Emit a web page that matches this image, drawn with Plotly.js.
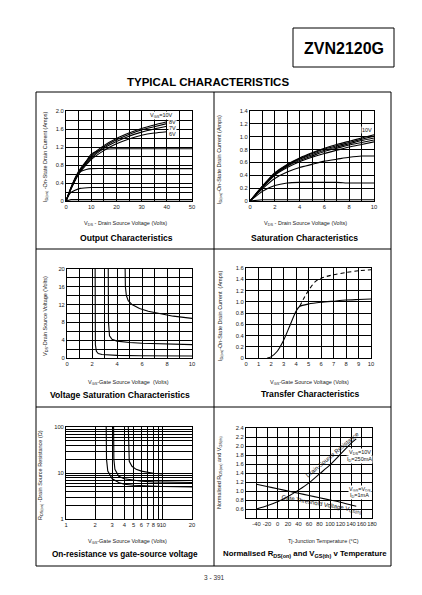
<!DOCTYPE html>
<html><head><meta charset="utf-8">
<script src="https://cdn.plot.ly/plotly-3.0.1.min.js"></script>
<style>html,body{margin:0;padding:0;background:#fff;}#chart{width:422px;height:595px;}</style>
</head><body><div id="chart"></div>
<script>
// ---------- Panel 1: Output characteristics (ID vs VDS) ----------
const outVds   = [0, 2, 5, 10, 15, 20, 25, 30, 35, 40];
const outId10  = [0, 0.30, 0.66, 1.01, 1.23, 1.39, 1.51, 1.61, 1.69, 1.76];
const outId8   = [0, 0.29, 0.64, 0.98, 1.20, 1.36, 1.48, 1.58, 1.65, 1.72];
const outId7   = [0, 0.28, 0.62, 0.95, 1.17, 1.32, 1.44, 1.53, 1.60, 1.66];
const outId6   = [0, 0.27, 0.60, 0.92, 1.12, 1.27, 1.38, 1.46, 1.51, 1.54];
const outVds5  = [0, 2, 5, 8, 10, 13, 15, 20, 30, 40, 50];
const outId5   = [0, 0.27, 0.60, 0.88, 1.04, 1.12, 1.15, 1.16, 1.16, 1.16, 1.16];
const outVds4  = [0, 2, 4, 6, 8, 10, 20, 30, 40, 50];
const outId4   = [0, 0.30, 0.55, 0.66, 0.70, 0.72, 0.72, 0.72, 0.72, 0.72];
const outVds3  = [0, 1, 2, 3.6, 5.6, 10, 20, 50];
const outId3   = [0, 0.12, 0.19, 0.24, 0.28, 0.30, 0.30, 0.30];
const outVds2  = [0, 2, 50];
const outId2   = [0, 0.03, 0.03];
const p1XGrid  = [0, 5, 10, 15, 20, 25, 30, 35, 40, 45, 50];
const p1XTicks = [0, 10, 20, 30, 40, 50];
const p1XText  = ['0', '10', '20', '30', '40', '50'];
const p1YGrid  = [0, 0.2, 0.4, 0.6, 0.8, 1.0, 1.2, 1.4, 1.6, 1.8, 2.0];
const p1YTicks = [0, 0.4, 0.8, 1.2, 1.6, 2.0];
const p1YText  = ['0', '0.4', '0.8', '1.2', '1.6', '2.0'];

// ---------- Panel 2: Saturation characteristics ----------
const satVds = [0, 1, 2, 3, 4, 5, 6, 7, 8, 9, 10];
const sat10  = [0, 0.23, 0.44, 0.57, 0.67, 0.75, 0.82, 0.88, 0.93, 0.98, 1.03];
const sat8   = [0, 0.23, 0.43, 0.56, 0.66, 0.74, 0.81, 0.86, 0.91, 0.96, 1.01];
const sat7   = [0, 0.22, 0.42, 0.55, 0.65, 0.72, 0.79, 0.84, 0.89, 0.94, 0.98];
const sat6   = [0, 0.22, 0.41, 0.54, 0.63, 0.70, 0.77, 0.82, 0.87, 0.91, 0.95];
const sat5   = [0, 0.21, 0.40, 0.52, 0.61, 0.68, 0.74, 0.79, 0.84, 0.88, 0.92];
const sat4   = [0, 0.19, 0.35, 0.45, 0.52, 0.57, 0.62, 0.65, 0.68, 0.70, 0.70];
const sat3   = [0, 0.15, 0.24, 0.28, 0.29, 0.29, 0.29, 0.29, 0.28, 0.28, 0.28];
const sat2   = [0, 0.02, 0.02, 0.02, 0.02, 0.02, 0.02, 0.02, 0.02, 0.02, 0.02];
const p2XGrid  = [0, 1, 2, 3, 4, 5, 6, 7, 8, 9, 10];
const p2XTicks = [0, 2, 4, 6, 8, 10];
const p2XText  = ['0', '2', '4', '6', '8', '10'];
const p2YGrid  = [0, 0.2, 0.4, 0.6, 0.8, 1.0, 1.2, 1.4];
const p2YTicks = [0, 0.2, 0.4, 0.6, 0.8, 1.0, 1.2, 1.4];
const p2YText  = ['0', '0.2', '0.4', '0.6', '0.8', '1.0', '1.2', '1.4'];

// ---------- Panel 3: Voltage saturation characteristics ----------
const vs10x = [4.65, 4.67, 4.75, 4.9, 5.2, 5.8, 6.5, 7.5, 8.5, 10];
const vs10y = [20, 16, 14, 12.9, 12.0, 11.1, 10.5, 9.9, 9.4, 8.9];
const vs05x = [3.30, 3.32, 3.40, 3.6, 4.0, 4.5, 5, 6, 8, 10];
const vs05y = [20, 8, 5, 4.2, 3.8, 3.6, 3.5, 3.3, 3.1, 3.0];
const vs01x = [2.25, 2.27, 2.35, 2.5, 2.8, 3.2, 4, 6, 10];
const vs01y = [20, 3, 1.5, 1.0, 0.8, 0.7, 0.6, 0.5, 0.45];
const p3XGrid  = [0, 1, 2, 3, 4, 5, 6, 7, 8, 9, 10];
const p3XTicks = [0, 2, 4, 6, 8, 10];
const p3XText  = ['0', '2', '4', '6', '8', '10'];
const p3YGrid  = [0, 2, 4, 6, 8, 10, 12, 14, 16, 18, 20];
const p3YTicks = [0, 4, 8, 12, 16, 20];
const p3YText  = ['0', '4', '8', '12', '16', '20'];

// ---------- Panel 4: Transfer characteristics ----------
const trVgs10 = [1.7, 2.0, 2.5, 3.0, 3.5, 4.0, 4.3, 5, 6, 7, 8, 9, 10];
const trId10  = [0, 0.02, 0.12, 0.31, 0.57, 0.83, 0.92, 0.96, 0.99, 1.01, 1.03, 1.04, 1.05];
const trVgs25 = [4.3, 4.6, 5.0, 5.5, 6, 7, 8, 9, 10];
const trId25  = [0.92, 1.05, 1.20, 1.35, 1.42, 1.48, 1.52, 1.55, 1.57];
const p4XGrid  = [0, 1, 2, 3, 4, 5, 6, 7, 8, 9, 10];
const p4XTicks = [0, 1, 2, 3, 4, 5, 6, 7, 8, 9, 10];
const p4XText  = ['0', '1', '2', '3', '4', '5', '6', '7', '8', '9', '10'];
const p4YGrid  = [0, 0.2, 0.4, 0.6, 0.8, 1.0, 1.2, 1.4, 1.6];
const p4YTicks = [0, 0.2, 0.4, 0.6, 0.8, 1.0, 1.2, 1.4, 1.6];
const p4YText  = ['0', '0.2', '0.4', '0.6', '0.8', '1.0', '1.2', '1.4', '1.6'];

// ---------- Panel 5: On-resistance vs gate-source voltage (log-log) ----------
const ron10x = [4.4, 4.42, 4.5, 4.8, 5.3, 6, 7, 8, 10];
const ron10y = [100, 30, 18, 14, 12, 11, 10.3, 9.9, 9.5];
const ron05x = [3.1, 3.12, 3.2, 3.5, 4, 5, 6, 8, 10, 20];
const ron05y = [100, 20, 12, 8.5, 7.5, 6.9, 6.6, 6.4, 6.3, 6.2];
const ron01x = [2.6, 2.62, 2.7, 3, 3.5, 4, 5, 7, 10, 20];
const ron01y = [100, 20, 11, 7.5, 6.2, 5.7, 5.4, 5.2, 5.1, 5.0];
const p5XGrid  = [1, 2, 3, 4, 5, 6, 7, 8, 9, 10, 20];
const p5XTicks = [1, 2, 3, 4, 5, 6, 7, 8, 9, 10, 20];
const p5XText  = ['1', '2', '3', '4', '5', '6', '7', '8', '9', '10', '20'];
const p5YGrid  = [1, 2, 3, 4, 5, 6, 7, 8, 9, 10, 20, 30, 40, 50, 60, 70, 80, 90, 100];
const p5YTicks = [1, 10, 100];
const p5YText  = ['1', '10', '100'];

// ---------- Panel 6: Normalised RDS(on) and VGS(th) vs temperature ----------
const tempC = [-40, -20, 0, 20, 40, 60, 80, 100, 120, 140, 150];
const rdsN  = [0.60, 0.67, 0.76, 0.88, 1.02, 1.18, 1.38, 1.58, 1.82, 2.06, 2.16];
const vthN  = [1.15, 1.10, 1.05, 1.00, 0.95, 0.90, 0.85, 0.80, 0.75, 0.69, 0.66];
const p6XGrid  = [-60, -40, -20, 0, 20, 40, 60, 80, 100, 120, 140, 160, 180];
const p6XTicks = [-40, -20, 0, 20, 40, 60, 80, 100, 120, 140, 160, 180];
const p6XText  = ['-40', '-20', '0', '20', '40', '60', '80', '100', '120', '140', '160', '180'];
const p6YGrid  = [0.4, 0.6, 0.8, 1.0, 1.2, 1.4, 1.6, 1.8, 2.0, 2.2, 2.4];
const p6YTicks = [0.6, 0.8, 1.0, 1.2, 1.4, 1.6, 1.8, 2.0, 2.2, 2.4];
const p6YText  = ['0.6', '0.8', '1.0', '1.2', '1.4', '1.6', '1.8', '2.0', '2.2', '2.4'];

// ---------- helpers ----------
const W = 422, H = 595;
const TF = 'Liberation Sans, Arial, sans-serif';
const px = v => v / W;
const py = v => 1 - v / H;

function baseAxis(range, grid, tv, tt, anchor, extra) {
  return Object.assign({range: range, anchor: anchor,
    tickmode: 'array', tickvals: tv, ticktext: tt, tickangle: 0,
    showgrid: true, gridcolor: '#000', gridwidth: 1,
    minor: {tickmode: 'array', tickvals: grid, showgrid: true, gridcolor: '#000', gridwidth: 1, ticks: ''},
    showline: true, mirror: true, linecolor: '#000', linewidth: 1, zeroline: false, ticks: '',
    tickfont: {family: TF, size: 5.8, color: '#222'}, fixedrange: true}, extra || {});
}
function xax(l, r, range, grid, tv, tt, anchor, extra) {
  const a = baseAxis(range, grid, tv, tt, anchor, extra); a.domain = [px(l), px(r)]; return a;
}
function yax(t, b, range, grid, tv, tt, anchor, extra) {
  const a = baseAxis(range, grid, tv, tt, anchor, extra); a.domain = [py(b), py(t)]; return a;
}
function line(x, y, xa, ya, opt) {
  const o = opt || {};
  return {x: x, y: y, xaxis: xa, yaxis: ya, mode: 'lines', hoverinfo: 'skip',
    line: {color: '#000', width: o.w || 1.1, dash: o.dash || 'solid', shape: o.shape || 'spline', smoothing: 0.6}};
}

const traces = [
  line(outVds, outId10, 'x', 'y'), line(outVds, outId8, 'x', 'y'), line(outVds, outId7, 'x', 'y'),
  line(outVds, outId6, 'x', 'y'), line(outVds5, outId5, 'x', 'y'), line(outVds4, outId4, 'x', 'y'),
  line(outVds3, outId3, 'x', 'y'), line(outVds2, outId2, 'x', 'y', {shape: 'linear'}),
  line(satVds, sat10, 'x2', 'y2'), line(satVds, sat8, 'x2', 'y2'), line(satVds, sat7, 'x2', 'y2'),
  line(satVds, sat6, 'x2', 'y2'), line(satVds, sat5, 'x2', 'y2'), line(satVds, sat4, 'x2', 'y2'),
  line(satVds, sat3, 'x2', 'y2'), line(satVds, sat2, 'x2', 'y2', {shape: 'linear'}),
  line(vs10x, vs10y, 'x3', 'y3', {shape: 'linear'}), line(vs05x, vs05y, 'x3', 'y3', {shape: 'linear'}),
  line(vs01x, vs01y, 'x3', 'y3', {shape: 'linear'}),
  line(trVgs10, trId10, 'x4', 'y4'), line(trVgs25, trId25, 'x4', 'y4', {dash: '4px,3px'}),
  line(ron10x, ron10y, 'x5', 'y5', {shape: 'linear'}), line(ron05x, ron05y, 'x5', 'y5', {shape: 'linear'}),
  line(ron01x, ron01y, 'x5', 'y5', {shape: 'linear'}),
  line(tempC, rdsN, 'x6', 'y6'), line(tempC, vthN, 'x6', 'y6')
];

function ann(x, y, text, o) {
  o = o || {};
  return {xref: 'paper', yref: 'paper', x: px(x), y: py(y), text: text, showarrow: false,
    xanchor: o.xa || 'center', yanchor: 'middle', textangle: o.angle || 0,
    font: {family: TF, size: o.size || 5.5, color: o.color || '#222', weight: o.weight || 'normal'}};
}
function lab(xr, yr, x, y, text, o) {
  o = o || {};
  const a = {xref: xr, yref: yr, x: x, y: y, text: text, showarrow: false,
    xanchor: o.xa || 'left', yanchor: 'middle', textangle: o.angle || 0,
    font: {family: TF, size: o.size || 5.5, color: '#111'}};
  if (o.bg) { a.bgcolor = '#fff'; a.borderpad = 0; }
  return a;
}
function ptitle(x, y, text, size) { return ann(x, y, text, {size: size || 8.6, color: '#000', weight: 'bold'}); }

const annotations = [
  ann(344, 48, 'ZVN2120G', {size: 16, weight: 'bold', color: '#000'}),
  ann(207.5, 82.5, 'TYPICAL CHARACTERISTICS', {size: 11.5, weight: 'bold', color: '#000'}),
  ann(214, 577, '3 - 391', {size: 6.5, color: '#333'}),
  // axis titles
  ann(46, 157, 'I<sub>D(on)</sub> -On-State Drain Current (Amps)', {angle: -90}),
  ann(126, 223, 'V<sub>DS</sub> - Drain Source Voltage (Volts)'),
  ann(220, 160, 'I<sub>D(on)</sub>-On-State Drain Current (Amps)', {angle: -90}),
  ann(305, 223, 'V<sub>DS</sub> - Drain Source Voltage (Volts)'),
  ann(45, 316, 'V<sub>DS</sub>-Drain Source Voltage (Volts)', {angle: -90}),
  ann(128, 382, 'V<sub>GS</sub>-Gate Source Voltage  (Volts)'),
  ann(220, 316, 'I<sub>D(on)</sub>-On-State Drain Current  (Amps)', {angle: -90}),
  ann(309, 382, 'V<sub>GS</sub>-Gate Source Voltage (Volts)'),
  ann(40, 475, 'R<sub>DS(on)</sub> -Drain Source Resistance (Ω)', {angle: -90}),
  ann(127, 541, 'V<sub>GS</sub>-Gate Source Voltage (Volts)'),
  ann(220, 473, 'Normalised R<sub>DS(on)</sub> and V<sub>GS(th)</sub>', {angle: -90}),
  ann(323, 541, 'Tj-Junction Temperature (°C)'),
  // panel titles
  ptitle(126.5, 237.5, 'Output Characteristics'),
  ptitle(304, 237.5, 'Saturation Characteristics'),
  ptitle(120, 395, 'Voltage Saturation Characteristics'),
  ptitle(310, 394, 'Transfer Characteristics'),
  ptitle(124.5, 554, 'On-resistance vs gate-source voltage', 8.2),
  ptitle(305, 554, 'Normalised R<sub>DS(on)</sub> and V<sub>GS(th)</sub> v Temperature', 7.8),
  // panel 1 labels
  lab('x', 'y', 38, 1.91, 'V<sub>GS</sub>=10V', {xa: 'center', bg: true}),
  lab('x', 'y', 40.5, 1.75, '8V', {bg: true}),
  lab('x', 'y', 40.5, 1.62, '7V', {bg: true}),
  lab('x', 'y', 40.5, 1.49, '6V', {bg: true}),
  lab('x', 'y', 50.5, 1.16, '5V'),
  lab('x', 'y', 50.5, 0.72, '4V'),
  lab('x', 'y', 50.5, 0.30, '3V'),
  lab('x', 'y', 50.5, 0.07, '2V'),
  // panel 2 labels
  lab('x2', 'y2', 10.3, 1.20, 'V<sub>GS</sub>='),
  lab('x2', 'y2', 9.45, 1.11, '10V', {xa: 'center', bg: true}),
  lab('x2', 'y2', 10.3, 1.07, '8V'),
  lab('x2', 'y2', 10.3, 1.02, '7V'),
  lab('x2', 'y2', 10.3, 0.95, '6V'),
  lab('x2', 'y2', 10.3, 0.89, '5V'),
  lab('x2', 'y2', 10.3, 0.70, '4V'),
  lab('x2', 'y2', 10.3, 0.28, '3V'),
  lab('x2', 'y2', 10.3, 0.04, '2V'),
  // panel 3 labels
  lab('x3', 'y3', 10.3, 9.8, 'I<sub>D</sub>='),
  lab('x3', 'y3', 10.3, 7.9, '1.0A'),
  lab('x3', 'y3', 10.3, 2.8, '0.5A'),
  lab('x3', 'y3', 10.3, 0.5, '0.1A'),
  // panel 4 labels
  lab('x4', 'y4', 10.3, 1.70, 'V<sub>DS</sub>='),
  lab('x4', 'y4', 10.3, 1.58, '25V'),
  lab('x4', 'y4', 10.3, 1.06, '10V'),
  // panel 5 labels (log axes: log10 positions)
  lab('x5', 'y5', Math.log10(21), Math.log10(12.9), 'I<sub>D</sub>='),
  lab('x5', 'y5', Math.log10(21), Math.log10(8.6), '1.0A'),
  lab('x5', 'y5', Math.log10(21), Math.log10(6.7), '0.5A'),
  lab('x5', 'y5', Math.log10(21), Math.log10(5.2), '0.1A'),
  // panel 6 labels
  lab('x6', 'y6', 157, 1.85, 'V<sub>DS</sub>=10V', {xa: 'center', bg: true}),
  lab('x6', 'y6', 157, 1.70, 'I<sub>D</sub>=250mA', {xa: 'center', bg: true}),
  lab('x6', 'y6', 157, 1.03, 'V<sub>GS</sub>=V<sub>DS</sub>', {xa: 'center', bg: true}),
  lab('x6', 'y6', 157, 0.90, 'I<sub>D</sub>=1mA', {xa: 'center', bg: true}),
  lab('x6', 'y6', 104, 1.80, 'Drain-Source Resistance', {xa: 'center', angle: -40, size: 6}),
  lab('x6', 'y6', 84, 0.70, 'Gate Threshold Voltage V<sub>GS(th)</sub>', {xa: 'center', angle: 10, size: 6})
];

function pl(x0, y0, x1, y1) {
  return {type: 'line', xref: 'paper', yref: 'paper', x0: px(x0), y0: py(y0), x1: px(x1), y1: py(y1),
    line: {color: '#000', width: 1}};
}
const shapes = [
  {type: 'rect', xref: 'paper', yref: 'paper', x0: px(36), y0: py(566), x1: px(391), y1: py(92), line: {color: '#000', width: 1}},
  pl(214, 92, 214, 566), pl(36, 249, 391, 249), pl(36, 407, 391, 407),
  {type: 'rect', xref: 'paper', yref: 'paper', x0: px(293), y0: py(67), x1: px(394), y1: py(28), line: {color: '#000', width: 1}}
];

const layout = {
  width: W, height: H, margin: {l: 0, r: 0, t: 0, b: 0}, showlegend: false,
  paper_bgcolor: '#fff', plot_bgcolor: '#fff', font: {family: TF},
  xaxis:  xax(66, 192, [0, 50], p1XGrid, p1XTicks, p1XText, 'y'),
  yaxis:  yax(111, 201, [0, 2.0], p1YGrid, p1YTicks, p1YText, 'x'),
  xaxis2: xax(250, 374, [0, 10], p2XGrid, p2XTicks, p2XText, 'y2'),
  yaxis2: yax(111, 201, [0, 1.4], p2YGrid, p2YTicks, p2YText, 'x2'),
  xaxis3: xax(67, 192, [0, 10], p3XGrid, p3XTicks, p3XText, 'y3'),
  yaxis3: yax(269, 358, [0, 20], p3YGrid, p3YTicks, p3YText, 'x3'),
  xaxis4: xax(246, 371, [0, 10], p4XGrid, p4XTicks, p4XText, 'y4'),
  yaxis4: yax(268, 358, [0, 1.6], p4YGrid, p4YTicks, p4YText, 'x4'),
  xaxis5: xax(66, 192, [0, Math.log10(20)], p5XGrid, p5XTicks, p5XText, 'y5', {type: 'log'}),
  yaxis5: yax(427, 519, [0, 2], p5YGrid, p5YTicks, p5YText, 'x5', {type: 'log'}),
  xaxis6: xax(246, 372, [-60, 180], p6XGrid, p6XTicks, p6XText, 'y6'),
  yaxis6: yax(428, 518, [0.4, 2.4], p6YGrid, p6YTicks, p6YText, 'x6'),
  annotations: annotations, shapes: shapes
};

Plotly.newPlot('chart', traces, layout, {staticPlot: true, displayModeBar: false});
</script></body></html>
